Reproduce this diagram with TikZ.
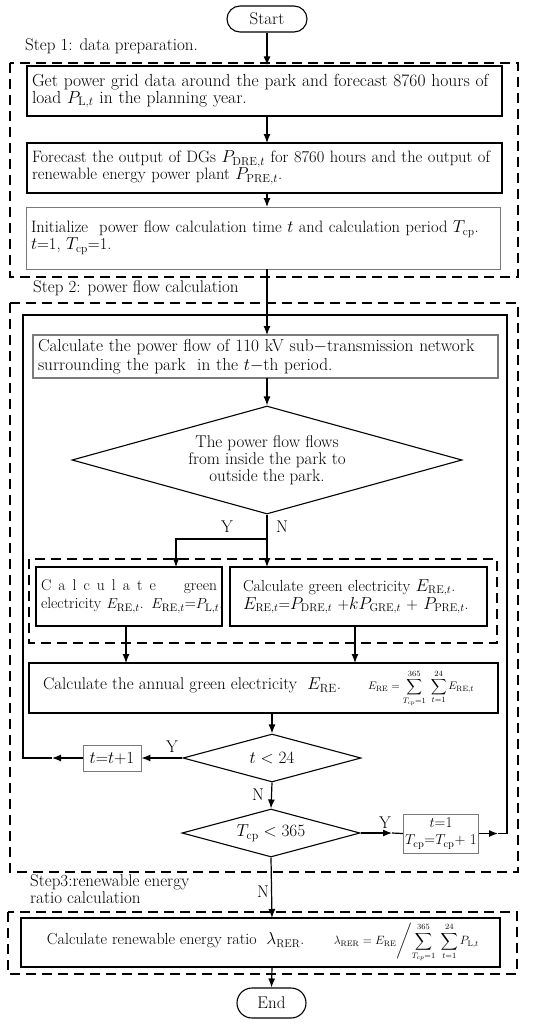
\documentclass[tikz,border=0pt]{standalone}
\usepackage{amsmath}
\usepackage{fontspec}
\usetikzlibrary{arrows.meta,positioning,calc,shapes.geometric}
\definecolor{Edge}{HTML}{7A7A7A}

\begin{document}
\begin{tikzpicture}[x=1pt,y=-1pt,
    font=\fontsize{17}{17}\selectfont,
    terminal/.style={draw,line width=1.1pt,rounded corners=13pt,minimum height=26pt,inner sep=0pt},
    procbox/.style={draw,line width=1.3pt,align=left,inner xsep=5pt,inner ysep=0pt},
    softbox/.style={draw=Edge,line width=0.9pt,align=left,inner xsep=5pt,inner ysep=0pt},
    decision/.style={diamond,draw,line width=1.1pt,inner sep=0pt},
    stage/.style={draw,line width=1.3pt,dash pattern=on 10pt off 6pt},
    flow/.style={line width=1.2pt},
    arrow/.style={flow,-{Latex[length=9pt,width=7pt]}},
    steplabel/.style={anchor=west,align=left,inner sep=0pt}
]
\useasboundingbox (0,0) rectangle (550,1026);

\node[terminal,minimum width=80pt] (start) at (267,19) {Start};
\node[terminal,minimum width=69pt,minimum height=30pt,rounded corners=15pt] (end) at (271.5,1003) {End};

\draw[stage] (10,63) rectangle (518,277);
\draw[stage] (10,303) rectangle (518,872);
\draw[stage] (8,912) rectangle (517,974);
\draw[stage] (29,559) rectangle (497,643);
\node[steplabel] (st1) at (25,46) {Step 1: data preparation.};
\node[steplabel] (st2) at (33,288) {Step 2: power flow calculation};
\node[steplabel,font=\fontsize{17}{15}\selectfont] (st3) at (30,889) {Step3:renewable energy\\ratio calculation};

\node[procbox,text width=465pt,minimum height=50pt,font=\fontsize{17.5}{17}\selectfont] (b1) at (264.5,91)
  {\mbox{Get power grid data around the park and forecast 8760 hours of}\\load $P_{\mathrm{L},t}$ in the planning year.};
\node[procbox,text width=465pt,minimum height=50pt,font=\fontsize{16.5}{17}\selectfont] (b2) at (264.5,168)
  {\mbox{Forecast the output of DGs $P_{\mathrm{DRE},t}$ for 8760 hours and the output of}\\renewable energy power plant $P_{\mathrm{PRE},t}$.};
\node[softbox,text width=464pt,minimum height=62pt,font=\fontsize{16.5}{17}\selectfont] (b3) at (263,238)
  {\mbox{Initialize\ \ power flow calculation time $t$ and calculation period $T_{\mathrm{cp}}$.}\\$t$=1, $T_{\mathrm{cp}}$=1.};
\node[softbox,line width=1.2pt,text width=455pt,minimum height=43pt,font=\fontsize{17.3}{18.5}\selectfont] (b4) at (265.5,356.5)
  {\mbox{Calculate the power flow of 110 kV sub$-$transmission network}\\surrounding the park\ \ in the $t$$-$th period.};
\node[decision,minimum width=390pt,minimum height=108pt,shape aspect=3.6,align=center] (d1) at (267,460)
  {The power flow flows\\from inside the park to\\outside the park.};
\node[procbox,text width=176pt,inner xsep=5pt,minimum height=59pt,font=\fontsize{15.5}{18}\selectfont] (gl) at (129,596.5)
  {\makebox[176pt]{C\hfill a\hfill l\hfill c\hfill u\hfill l\hfill a\hfill t\hfill e\hspace{28pt}green}\\\mbox{electricity $E_{\mathrm{RE},t}$. $E_{\mathrm{RE},t}$=$P_{\mathrm{L},t}$.}};
\node[procbox,text width=231pt,inner xsep=13pt,minimum height=59pt,font=\fontsize{16}{18}\selectfont] (gr) at (358.5,596.5)
  {Calculate green electricity $E_{\mathrm{RE},t}$.\\\mbox{$E_{\mathrm{RE},t}$=$P_{\mathrm{DRE},t}$ +$kP_{\mathrm{GRE},t}$ + $P_{\mathrm{PRE},t}$.}};
\node[procbox,inner xsep=14pt,minimum height=50pt] (b5) at (263.5,688)
  {\makebox[441pt]{Calculate the annual green electricity\ \ $E_{\mathrm{RE}}$.\hfill
   {\fontsize{11}{12}\selectfont$\displaystyle E_{\mathrm{RE}}=\sum_{T_{\mathrm{cp}}=1}^{365}\;\sum_{t=1}^{24}E_{\mathrm{RE},t}$}\hspace{10pt}}};
\node[decision,minimum width=178pt,minimum height=48pt,shape aspect=3.7] (d2) at (272,758) {$t<24$};
\node[softbox,minimum width=58pt,minimum height=26pt,align=center,inner xsep=2pt] (inc) at (112,758) {$t$=$t$+1};
\node[decision,minimum width=178pt,minimum height=48pt,shape aspect=3.7] (d3) at (271,833) {$T_{\mathrm{cp}}<365$};
\node[softbox,minimum width=74pt,minimum height=39pt,align=center,inner xsep=2pt,font=\fontsize{15}{17}\selectfont] (nxt) at (441,833.5)
  {$t$=1\\$T_{\mathrm{cp}}$=$T_{\mathrm{cp}}$+ 1};
\node[procbox,inner xsep=13pt,minimum height=49pt,font=\fontsize{16}{17}\selectfont] (b6) at (260.5,942.5)
  {\makebox[453pt]{\hspace{13pt}Calculate renewable energy ratio\ \ $\lambda_{\mathrm{RER}}$.\hfill
   {\fontsize{12}{13}\selectfont$\left.\lambda_{\mathrm{RER}}=E_{\mathrm{RE}}\middle/\displaystyle\sum_{T_{cp}=1}^{365}\;\sum_{t=1}^{24}P_{\mathrm{L},t}\right.$}\hspace{7pt}}};

\coordinate (top) at (267,315);
\coordinate (lc) at (23,315);
\coordinate (rc) at (507,315);
\coordinate (la) at (52,758);
\coordinate (ra) at (498,833.5);
\coordinate (ya) at (392,833);
\coordinate (split) at (267,539);

\draw[arrow] (start) -- (start |- b1.north);
\draw[arrow] (267,116) -- (267,143);
\draw[arrow] (267,193) -- (267,207);
\draw[arrow] (267,269) -- (267,335);
\draw[arrow] (267,378) -- (d1.north);
\draw[flow] (d1.south) -- (split);
\draw[arrow] (split) -| (176,567);
\draw[arrow] (split) -- (267,567);
\draw[arrow] (126,626) -- (126,663);
\draw[arrow] (355,626) -- (355,663);
\draw[arrow] (272,713) -- (d2.north);
\draw[arrow] (d2.west) -- (inc.east);
\draw[arrow] (inc.west) -- (la);
\draw[flow] (la) -- (23,758) -- (lc) -- (rc) -- (507,833.5) -- (ra);
\draw[arrow] (nxt.east) -- (ra);
\draw[arrow] (d2.south) -- (d3.north);
\draw[arrow] (d3.east) -- (ya);
\draw[flow] (ya) -- (nxt.west);
\draw[arrow] (d3.south) -- (272,918);
\draw[arrow] (272,967) -- (end.north);

\node (y1) at (227,527) {Y};
\node (n1) at (282,527) {N};
\node (y2) at (172,747) {Y};
\node (n2) at (258,795) {N};
\node (y3) at (385,823) {Y};
\node (n3) at (263,892) {N};
\end{tikzpicture}
\end{document}
